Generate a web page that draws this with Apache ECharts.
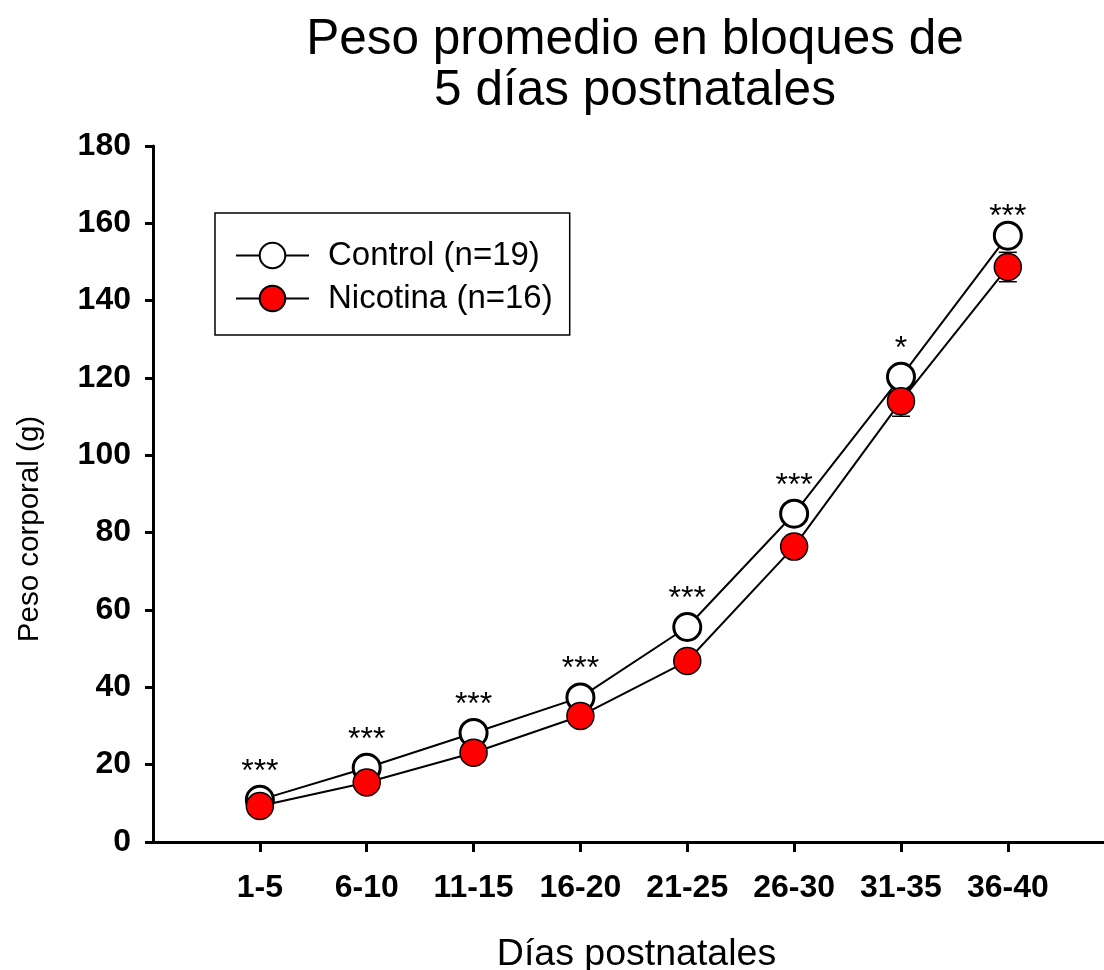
<!DOCTYPE html>
<html>
<head>
<meta charset="utf-8">
<script src="https://cdn.jsdelivr.net/npm/echarts@6/dist/echarts.min.js"></script>
<style>
  html, body { margin: 0; padding: 0; background: #fff; }
  #chart { width: 1104px; height: 970px; }
</style>
</head>
<body>
<div id="chart"></div>
<script>
// Postnatal day blocks
const categories = ['1-5', '6-10', '11-15', '16-20', '21-25', '26-30', '31-35', '36-40'];
// Mean body weight (g)
const controlMean = [10.9, 19.2, 28.2, 37.4, 55.6, 84.9, 120.3, 156.8];
const nicotinaMean = [9.3, 15.4, 23.1, 32.6, 46.8, 76.4, 114.0, 148.7];
// Standard error (g)
const controlSE = [0.5, 0.7, 0.9, 1.1, 1.5, 2.0, 2.6, 2.6];
const nicotinaSE = [0.5, 0.6, 0.8, 1.0, 1.3, 2.0, 3.9, 3.8];
// Significance marks per block
const significance = ['***', '***', '***', '***', '***', '***', '*', '***'];
const yTicks = [0, 20, 40, 60, 80, 100, 120, 140, 160, 180];

const FONT = '"Liberation Sans", Arial, sans-serif';
const xPos = categories.map((_, i) => i + 1);

function errorSeries(name, means, errs, z) {
  return {
    type: 'custom',
    name: name + '-se',
    z: z,
    silent: true,
    data: means.map((m, i) => [xPos[i], m, errs[i]]),
    renderItem: function (params, api) {
      const x = api.value(0), m = api.value(1), e = api.value(2);
      const hi = api.coord([x, m + e]);
      const lo = api.coord([x, m - e]);
      const cap = 9;
      const style = { stroke: '#000', lineWidth: 1.5 };
      return {
        type: 'group',
        children: [
          { type: 'line', shape: { x1: hi[0], y1: hi[1], x2: lo[0], y2: lo[1] }, style },
          { type: 'line', shape: { x1: hi[0] - cap, y1: hi[1], x2: hi[0] + cap, y2: hi[1] }, style },
          { type: 'line', shape: { x1: lo[0] - cap, y1: lo[1], x2: lo[0] + cap, y2: lo[1] }, style }
        ]
      };
    }
  };
}

const chart = echarts.init(document.getElementById('chart'), null, { renderer: 'canvas' });

chart.setOption({
  animation: false,
  backgroundColor: '#fff',
  title: {
    text: 'Peso promedio en bloques de\n5 días postnatales',
    left: 630,
    top: 10,
    textAlign: 'center',
    textStyle: {
      fontFamily: FONT,
      fontSize: 49.5,
      fontWeight: 'normal',
      color: '#000',
      lineHeight: 51
    }
  },
  legend: {
    left: 215,
    top: 213,
    orient: 'vertical',
    padding: [26, 17, 20, 20],
    itemGap: 10,
    itemWidth: 73,
    itemHeight: 32,
    borderColor: '#000',
    borderWidth: 1.5,
    selectedMode: false,
    textStyle: { fontFamily: FONT, fontSize: 33, color: '#000', padding: [0, 0, 0, 14] },
    data: ['Control (n=19)', 'Nicotina (n=16)']
  },
  grid: { left: 153, right: 0, top: 146, bottom: 128, containLabel: false, outerBoundsMode: 'none' },
  xAxis: {
    type: 'value',
    min: 0,
    max: 8.9,
    name: 'Días postnatales',
    nameLocation: 'middle',
    nameGap: 94,
    nameTextStyle: { fontFamily: FONT, fontSize: 37.5, color: '#000', padding: [0, 0, 0, 16] },
    axisLine: { show: true, lineStyle: { color: '#000', width: 3 } },
    axisTick: { show: true, customValues: xPos, length: 10, inside: false, lineStyle: { color: '#000', width: 3 } },
    axisLabel: {
      customValues: xPos,
      formatter: v => categories[Math.round(v) - 1] || '',
      margin: 30,
      fontFamily: FONT,
      fontSize: 32,
      fontWeight: 'bold',
      color: '#000'
    },
    splitLine: { show: false }
  },
  yAxis: {
    type: 'value',
    min: 0,
    max: 180,
    interval: 20,
    name: 'Peso corporal (g)',
    nameLocation: 'middle',
    nameGap: 108,
    nameTextStyle: { fontFamily: FONT, fontSize: 29.5, color: '#000', padding: [0, 70, 0, 0] },
    axisLine: { show: true, lineStyle: { color: '#000', width: 3 } },
    axisTick: { show: true, length: 8, inside: false, lineStyle: { color: '#000', width: 3 } },
    axisLabel: {
      customValues: yTicks,
      margin: 22,
      fontFamily: FONT,
      fontSize: 32,
      fontWeight: 'bold',
      color: '#000'
    },
    splitLine: { show: false }
  },
  series: [
    errorSeries('Control', controlMean, controlSE, 1),
    errorSeries('Nicotina', nicotinaMean, nicotinaSE, 1),
    {
      name: 'Nicotina (n=16)',
      type: 'line',
      z: 3,
      data: nicotinaMean.map((m, i) => [xPos[i], m]),
      symbol: 'circle',
      symbolSize: 27,
      lineStyle: { color: '#000', width: 2 },
      itemStyle: { color: '#ff0000', borderColor: '#000', borderWidth: 1.5 }
    },
    {
      name: 'Control (n=19)',
      type: 'line',
      z: 2,
      data: controlMean.map((m, i) => ({
        value: [xPos[i], m],
        label: { distance: i === categories.length - 1 ? -12 : -3 }
      })),
      symbol: 'circle',
      symbolSize: 27,
      lineStyle: { color: '#000', width: 2 },
      itemStyle: { color: '#fff', borderColor: '#000', borderWidth: 3 },
      label: {
        show: true,
        position: 'top',
        formatter: p => significance[p.dataIndex],
        fontFamily: FONT,
        fontSize: 32,
        color: '#000'
      }
    }
  ]
});
</script>
</body>
</html>
